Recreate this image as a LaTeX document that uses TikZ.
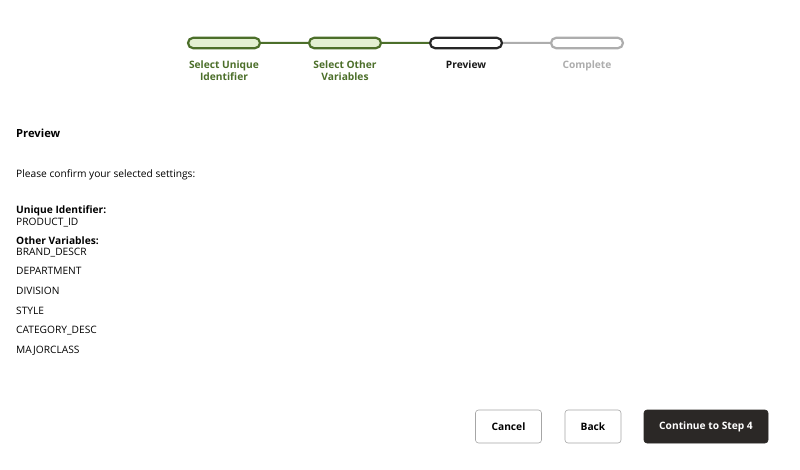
\documentclass[tikz,border=0pt]{standalone}
\usepackage{fontspec}
\setmainfont{Open Sans}
\usetikzlibrary{positioning,shapes.misc}
\definecolor{doneGreen}{HTML}{4C6F2A}
\definecolor{doneFill}{HTML}{E3F0D2}
\definecolor{todoGray}{HTML}{ADADAD}
\definecolor{darkBtn}{HTML}{2B2826}
\begin{document}
\begin{tikzpicture}[x=1pt,y=-1pt,node distance=121pt,font=\fontsize{10.2}{12}\selectfont]
      \tikzstyle{step node} = [rounded rectangle, draw=doneGreen, fill=doneFill, line width=2.2pt,
         minimum width=72pt, minimum height=10.5pt, inner sep=0pt]
      \tikzstyle{step label} = [font=\fontsize{10.2}{11.5}\selectfont\bfseries, align=center, text=doneGreen, below=11.5pt, inner sep=0pt]
      \tikzstyle{link} = [draw=doneGreen, line width=2pt]
      \tikzstyle{item} = [anchor=west, inner sep=0pt]
      \tikzstyle{head} = [item, font=\fontsize{10.2}{12}\selectfont\bfseries]
      \tikzstyle{button} = [draw=gray!70, line width=0.6pt, rounded corners=3pt, minimum height=33pt,
         inner sep=0pt, font=\fontsize{10.2}{12}\selectfont\bfseries]
      \useasboundingbox[fill=white] (0,0) rectangle (800,470);
      %steps
      \node[step node]                    (unique)   at (224,43) {};
      \node[step node]                    (other)    [right of=unique]  {};
      \node[step node, draw=black!85, fill=white]   (preview)  [right of=other]   {};
      \node[step node, draw=todoGray, fill=white]   (complete) [right of=preview] {};
      \node[step label]                   (uniqueL)   at (unique.south)   {Select Unique\\Identifier};
      \node[step label]                   (otherL)    at (other.south)    {Select Other\\Variables};
      \node[step label, text=black!90]    (previewL)  at (preview.south)  {Preview};
      \node[step label, text=todoGray]    (completeL) at (complete.south) {Complete};
      %lines
      \path [link] (unique) -- (other);
      \path [link] (other) -- (preview);
      \path [link, draw=todoGray] (preview) -- (complete);
      %text
      \node[head, font=\fontsize{11.2}{13}\selectfont\bfseries] (title) at (16,133) {Preview};
      \node[item] (confirm) at (16,175) {Please confirm your selected settings:};
      \node[head] (uidHead) at (16,211) {Unique Identifier:};
      \node[item] (uid) at (16,222.5) {PRODUCT\_ID};
      \node[head] (varHead) at (16,240.5) {Other Variables:};
      \node[item] (var1) at (16,252.5) {BRAND\_DESCR};
      \node[item] (var2) at (16,271) {DEPARTMENT};
      \node[item] (var3) at (16,291) {DIVISION};
      \node[item] (var4) at (16,311) {STYLE};
      \node[item] (var5) at (16,331) {CATEGORY\_DESC};
      \node[item] (var6) at (16,351) {MAJORCLASS};
      %buttons
      \node[button, minimum width=66pt]                 (cancel)   at (508.5,426.5) {Cancel};
      \node[button, minimum width=56pt]                 (back)     at (593,426.5)   {Back};
      \node[button, minimum width=124pt, fill=darkBtn, draw=darkBtn, text=white] (continue) at (706,426.5) {Continue to Step 4};
\end{tikzpicture}
\end{document}
